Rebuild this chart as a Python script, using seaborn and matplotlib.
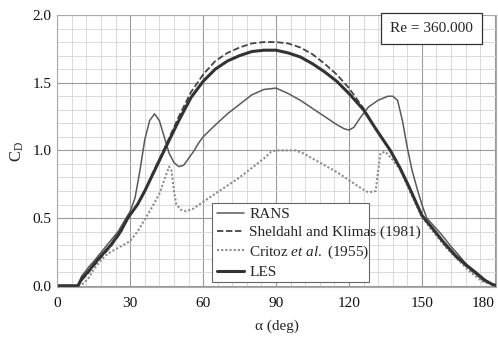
import matplotlib
matplotlib.use('Agg')
import matplotlib.pyplot as plt
import seaborn as sns
from matplotlib.ticker import MultipleLocator
from matplotlib.patches import Rectangle

# LES
les_angle = [0, 5, 8.5, 10, 12.5, 17, 22, 26, 29, 33, 36, 40, 44, 50, 55, 60, 65, 70, 75, 80,
             85, 90, 95, 100, 105, 110, 115, 120, 126, 131, 137, 141, 145, 150, 155, 159, 164,
             168.5, 172, 176, 179, 181]
les_cd = [0.0, 0.0, 0.0, 0.05, 0.1, 0.2, 0.3, 0.4, 0.5, 0.6, 0.7, 0.85, 1.0, 1.22, 1.39, 1.51,
          1.6, 1.66, 1.7, 1.73, 1.74, 1.74, 1.72, 1.69, 1.64, 1.58, 1.51, 1.42, 1.3, 1.16, 1.0,
          0.87, 0.72, 0.52, 0.41, 0.32, 0.22, 0.15, 0.1, 0.04, 0.01, 0.0]

# Sheldahl and Klimas (1981)
sk_angle = [0, 5, 8.5, 10, 12.5, 17, 22, 26, 29, 33, 36, 40, 44, 50, 55, 60, 65, 70, 75, 80,
            85, 90, 95, 100, 105, 110, 115, 120, 126, 131, 137, 141, 145, 150, 155, 159, 164,
            168.5, 172, 176, 179, 181]
sk_cd = [0.0, 0.0, 0.0, 0.04, 0.09, 0.19, 0.29, 0.39, 0.5, 0.6, 0.7, 0.86, 1.01, 1.25, 1.43,
         1.56, 1.66, 1.72, 1.76, 1.79, 1.8, 1.8, 1.79, 1.76, 1.71, 1.64, 1.56, 1.46, 1.31, 1.16,
         1.0, 0.87, 0.72, 0.52, 0.41, 0.31, 0.21, 0.14, 0.09, 0.04, 0.01, 0.0]

# RANS
rans_angle = [0, 5, 8.5, 10, 13, 15, 20, 25, 30, 32, 34, 36, 38, 40, 42, 44, 46, 48, 50, 52,
              54, 56, 58, 60, 64, 70, 75, 80, 85, 90, 95, 100, 105, 110, 115, 118, 120, 122,
              125, 128, 132, 136, 138, 140, 142, 144, 146, 148, 150, 152, 155, 158, 162, 165,
              170, 175, 179, 181]
rans_cd = [0.0, 0.0, 0.0, 0.07, 0.14, 0.18, 0.29, 0.4, 0.55, 0.65, 0.85, 1.08, 1.22, 1.27,
           1.22, 1.1, 0.98, 0.91, 0.88, 0.89, 0.94, 0.99, 1.05, 1.1, 1.17, 1.27, 1.34, 1.41,
           1.45, 1.46, 1.42, 1.37, 1.31, 1.25, 1.19, 1.16, 1.15, 1.17, 1.25, 1.32, 1.37, 1.4,
           1.4, 1.37, 1.22, 1.02, 0.85, 0.72, 0.6, 0.5, 0.44, 0.38, 0.29, 0.23, 0.12, 0.04,
           0.01, 0.0]

# Critoz et al. (1955)
cr_angle = [0, 5, 9, 11, 13, 15, 18, 21, 25, 30, 33, 36, 39, 42, 44, 46, 47, 48, 49, 51, 53,
            56, 60, 65, 70, 75, 80, 85, 88, 90, 95, 98, 101, 105, 110, 115, 120, 125, 128, 131,
            132, 133, 135, 138, 141, 145, 150, 155, 160, 165, 170, 175, 179, 181]
cr_cd = [0.0, 0.0, 0.0, 0.02, 0.06, 0.12, 0.19, 0.24, 0.28, 0.33, 0.4, 0.49, 0.58, 0.68, 0.78,
         0.88, 0.85, 0.7, 0.6, 0.56, 0.55, 0.57, 0.62, 0.68, 0.74, 0.8, 0.87, 0.94, 0.99, 1.0,
         1.0, 1.0, 0.98, 0.94, 0.89, 0.84, 0.78, 0.72, 0.69, 0.7, 0.85, 0.98, 0.99, 0.93, 0.86,
         0.7, 0.51, 0.39, 0.28, 0.19, 0.1, 0.03, 0.01, 0.0]

x_ticks = [0, 30, 60, 90, 120, 150, 180]
y_ticks = [0.0, 0.5, 1.0, 1.5, 2.0]

sns.set_theme(style="white")
plt.rcParams['font.family'] = ['Liberation Serif', 'DejaVu Serif']
plt.rcParams['mathtext.fontset'] = 'custom'
plt.rcParams['mathtext.rm'] = 'Liberation Serif'
plt.rcParams['mathtext.it'] = 'Liberation Serif:italic'

fig, ax = plt.subplots(figsize=(4.98, 3.41), dpi=100)
fig.subplots_adjust(left=0.115, right=0.996, top=0.956, bottom=0.158)

sns.lineplot(x=rans_angle, y=rans_cd, ax=ax, color='#5a5a5a', lw=1.1, label='RANS')
sns.lineplot(x=sk_angle, y=sk_cd, ax=ax, color='#444444', lw=1.3, linestyle=(0, (3.5, 1.5)),
             label='Sheldahl and Klimas (1981)')
sns.lineplot(x=cr_angle, y=cr_cd, ax=ax, color='#8c8c8c', lw=1.5, linestyle=(0, (1, 1)),
             label='Critoz $\\it{et\\ al.}$ (1955)')
sns.lineplot(x=les_angle, y=les_cd, ax=ax, color='#333333', lw=2.2, label='LES')

ax.set_xlim(0, 180.5)
ax.set_ylim(-0.01, 2.0)
ax.set_xticks(x_ticks)
ax.set_yticks(y_ticks)
ax.set_yticklabels([f'{v:.1f}' for v in y_ticks])
ax.xaxis.set_minor_locator(MultipleLocator(6))
ax.yaxis.set_minor_locator(MultipleLocator(0.1))
ax.grid(True, which='major', color='#9a9a9a', lw=0.8)
ax.grid(True, which='minor', color='#d4d4d4', lw=0.6)
ax.set_axisbelow(True)
ax.tick_params(which='both', length=0, labelsize=11, colors='#111111')
ax.tick_params(axis='x', pad=7)
ax.tick_params(axis='y', pad=4)
ax.get_xticklabels()[-1].set_ha('right')
for sp in ax.spines.values():
    sp.set_color('#aaaaaa')
    sp.set_linewidth(0.8)

ax.set_xlabel('α (deg)', fontsize=11, labelpad=7)
ax.set_ylabel('$\\mathregular{C_D}$', fontsize=12, labelpad=5)

ax.text(0.853, 0.951, 'Re = 360.000', transform=ax.transAxes, ha='center', va='center',
        fontsize=11, bbox=dict(boxstyle='square,pad=0.6', fc='white', ec='#333333', lw=0.9))

# legend frame drawn separately (text runs past it, like the original)
ax.add_patch(Rectangle((0.353, 0.018), 0.358, 0.29, transform=ax.transAxes, fc='white',
                       ec='#666666', lw=0.8, zorder=4.5))
leg = ax.legend(loc='lower left', bbox_to_anchor=(0.364, 0.03), fontsize=11, frameon=False,
                handlelength=1.75, labelspacing=0.28, borderpad=0, handletextpad=0.35,
                borderaxespad=0)

plt.savefig('out.png', dpi=100)
plt.close()
